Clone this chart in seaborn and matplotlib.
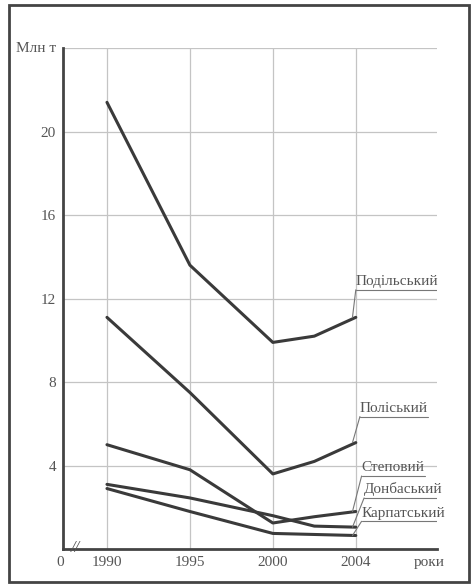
import numpy as np
import pandas as pd
import matplotlib
matplotlib.use('Agg')
import matplotlib.pyplot as plt
import seaborn as sns
from matplotlib.patches import Rectangle

# years on the axis (drawn equally spaced, as in the original)
tick_years = [1990, 1995, 2000, 2004]
years = [1990, 1995, 2000, 2002, 2004]

regions = ['Подільський', 'Поліський', 'Степовий', 'Донбаський', 'Карпатський']
podilskyi = [21.4, 13.6, 9.9, 10.2, 11.1]
poliskyi = [11.1, 7.5, 3.6, 4.2, 5.1]
stepovyi = [5.0, 3.8, 1.25, 1.55, 1.8]
donbaskyi = [3.1, 2.45, 1.6, 1.1, 1.05]
karpatskyi = [2.9, 1.8, 0.75, 0.7, 0.65]
y_ticks = [4, 8, 12, 16, 20, 24]
y_ticklabels = ['4', '8', '12', '16', '20', '']

series = [podilskyi, poliskyi, stepovyi, donbaskyi, karpatskyi]
pos = np.interp(years, tick_years, np.arange(len(tick_years)))
df = pd.DataFrame({
    'region': np.repeat(regions, len(years)),
    'pos': np.tile(pos, len(regions)),
    'value': np.concatenate(series),
})

sns.set_style('white')
plt.rcParams['font.family'] = ['Liberation Serif', 'DejaVu Serif']

fig = plt.figure(figsize=(4.72, 5.86), dpi=100)
ax = fig.add_axes([0.1335, 0.063, 0.7925, 0.855])

ink = '#3a3a3a'
sns.lineplot(data=df, x='pos', y='value', hue='region', units='region',
             estimator=None, palette={r: ink for r in regions},
             linewidth=2.2, legend=False, ax=ax)

ax.set_xlim(-0.53, 3.98)
ax.set_ylim(0, 24)
ax.set_xticks(range(len(tick_years)))
ax.set_xticklabels([str(y) for y in tick_years])
ax.set_yticks(y_ticks)
ax.set_yticklabels(y_ticklabels)
ax.grid(True, color='#c4c4c4', linewidth=0.9)
ax.set_xlabel('')
ax.set_ylabel('')
ax.tick_params(length=0, labelsize=11, colors='#555555', pad=5)
for s in ['top', 'right']:
    ax.spines[s].set_visible(False)
for s in ['left', 'bottom']:
    ax.spines[s].set_color('#444444')
    ax.spines[s].set_linewidth(2.0)

# extra texts
ax.text(-1.1, 24, 'Млн т', fontsize=11, color='#555555', ha='left', va='center')
ax.text(-0.57, -0.35, '0', fontsize=11, color='#555555', ha='center', va='top')
ax.text(-0.38, 0.05, '//', fontsize=12, color='#555555', ha='center', va='center',
        style='italic')
ax.text(3.88, -0.35, 'роки', fontsize=11, color='#555555', ha='center', va='top')

# labels with underline and leader to each line end
label_pos = {
    'Подільський': (3.0, 12.42),
    'Поліський': (3.05, 6.35),
    'Степовий': (3.07, 3.5),
    'Донбаський': (3.1, 2.45),
    'Карпатський': (3.07, 1.33),
}
texts = {}
for r in regions:
    x0, y0 = label_pos[r]
    texts[r] = ax.text(x0, y0 + 0.08, r, fontsize=11, color='#555555',
                       ha='left', va='bottom')
fig.canvas.draw()
inv = ax.transData.inverted()
for r, vals in zip(regions, series):
    x0, y0 = label_pos[r]
    bb = texts[r].get_window_extent()
    x1 = inv.transform((bb.x1, bb.y0))[0]
    ax.plot([x0, x1], [y0, y0], color='#777777', linewidth=0.8)
    ax.plot([x0, pos[-1] - 0.04], [y0, vals[-1]], color='#777777', linewidth=0.8)

fig.patches.append(Rectangle((0.019, 0.006), 0.975, 0.985, transform=fig.transFigure,
                             fill=False, edgecolor='#444444', linewidth=2.0))

fig.savefig('out.png', dpi=100)
